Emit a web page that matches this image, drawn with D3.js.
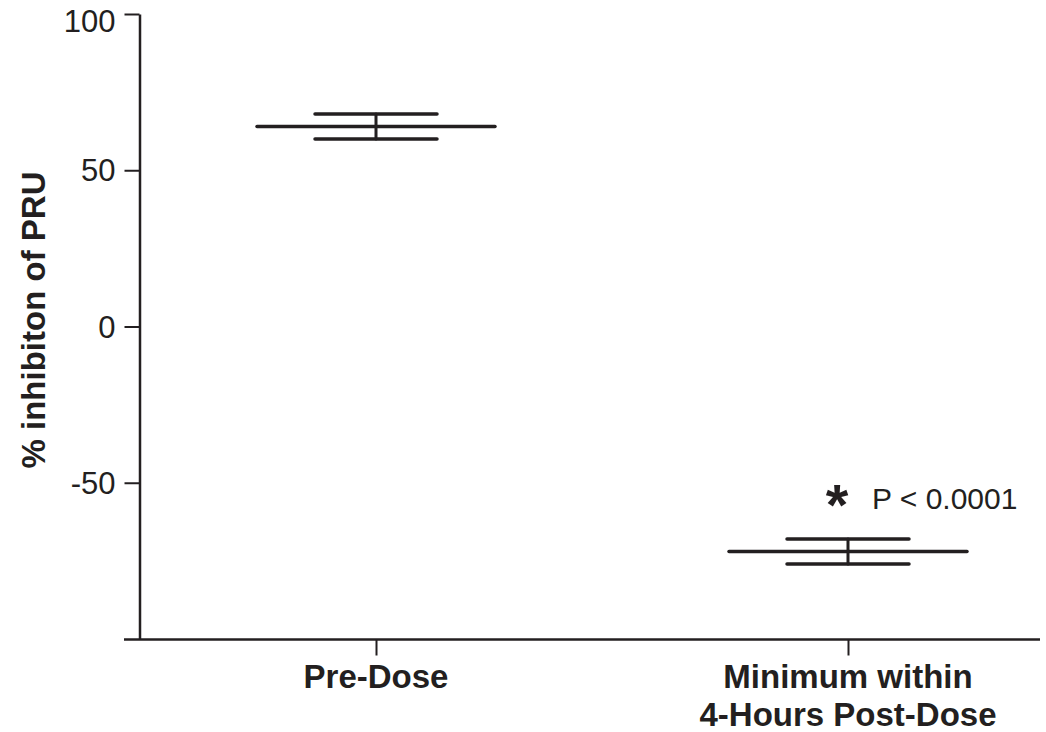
<!DOCTYPE html>
<html>
<head>
<meta charset="utf-8">
<script src="https://cdn.jsdelivr.net/npm/d3@7"></script>
<style>
  html, body { margin: 0; padding: 0; background: #fff; }
  svg { display: block; font-family: "Liberation Sans", Arial, sans-serif; }
</style>
</head>
<body>
<svg id="chart" width="1046" height="732"></svg>
<script>
// Mean % inhibition of PRU with standard error, per time point
const categories = ["Pre-Dose", "Minimum within\n4-Hours Post-Dose"];
const means = [64, -72];
const errors = [4, 4];
const yTicks = [100, 50, 0, -50];
const annotation = { category: 1, star: "*", text: "P < 0.0001" };

const ink = "#231f20";
const svg = d3.select("#chart");

const y = d3.scaleLinear().domain([-100, 100]).range([639, 14]);
const x = d3.scalePoint().domain(categories).range([376, 848]);

// y axis
const yAxis = svg.append("g")
  .attr("transform", "translate(139.5,0)")
  .call(d3.axisLeft(y).tickValues(yTicks).tickFormat(d => String(d))
    .tickSize(15).tickSizeOuter(0).tickPadding(9));
yAxis.select(".domain").attr("stroke", ink).attr("stroke-width", 2.5);
yAxis.selectAll(".tick line").attr("stroke", ink).attr("stroke-width", 2);
yAxis.selectAll(".tick text")
  .attr("fill", ink)
  .attr("font-size", 31)
  .attr("font-family", "Liberation Sans, Arial, sans-serif")
  // keep the top label inside the frame
  .attr("dy", d => d === d3.max(yTicks) ? "0.58em" : "0.34em");

// x axis
const xAxis = svg.append("g")
  .attr("transform", "translate(0,639.5)")
  .call(d3.axisBottom(x).tickSize(16).tickSizeOuter(0).tickFormat(""));
xAxis.select(".domain").remove();
xAxis.selectAll(".tick line").attr("stroke", ink).attr("stroke-width", 2);
xAxis.insert("line", ":first-child")
  .attr("x1", 124).attr("x2", 1040)
  .attr("y1", 0).attr("y2", 0)
  .attr("stroke", ink).attr("stroke-width", 2.5);

// category labels
categories.forEach(c => {
  const lines = c.split("\n");
  const t = svg.append("text")
    .attr("x", x(c))
    .attr("y", 688)
    .attr("text-anchor", "middle")
    .attr("font-weight", "bold")
    .attr("font-size", 33)
    .attr("fill", ink);
  lines.forEach((ln, i) => {
    t.append("tspan").attr("x", x(c)).attr("dy", i === 0 ? 0 : 38).text(ln);
  });
});

// y axis title
svg.append("text")
  .attr("transform", "translate(45,320) rotate(-90)")
  .attr("text-anchor", "middle")
  .attr("font-weight", "bold")
  .attr("font-size", 33)
  .attr("fill", ink)
  .text("% inhibiton of PRU");

// mean lines with error bars
const meanHalf = 119, capHalf = 61;
const g = svg.append("g")
  .attr("stroke", ink)
  .attr("stroke-linecap", "round")
  .attr("fill", "none");

categories.forEach((c, i) => {
  const cx = x(c);
  g.append("line")
    .attr("x1", cx - meanHalf).attr("x2", cx + meanHalf)
    .attr("y1", y(means[i])).attr("y2", y(means[i]))
    .attr("stroke-width", 3.5);
  g.append("line")
    .attr("x1", cx).attr("x2", cx)
    .attr("y1", y(means[i] + errors[i])).attr("y2", y(means[i] - errors[i]))
    .attr("stroke-width", 3);
  [means[i] + errors[i], means[i] - errors[i]].forEach(v => {
    g.append("line")
      .attr("x1", cx - capHalf).attr("x2", cx + capHalf)
      .attr("y1", y(v)).attr("y2", y(v))
      .attr("stroke-width", 3.5);
  });
});

// significance note
const ac = categories[annotation.category];
const ay = y(means[annotation.category] + errors[annotation.category]);
svg.append("text")
  .attr("x", x(ac) - 11)
  .attr("y", ay - 14)
  .attr("text-anchor", "middle")
  .attr("font-weight", "bold")
  .attr("font-size", 58)
  .attr("fill", ink)
  .text(annotation.star);
svg.append("text")
  .attr("x", x(ac) + 24)
  .attr("y", ay - 30)
  .attr("font-size", 30)
  .attr("fill", ink)
  .text(annotation.text);
</script>
</body>
</html>
